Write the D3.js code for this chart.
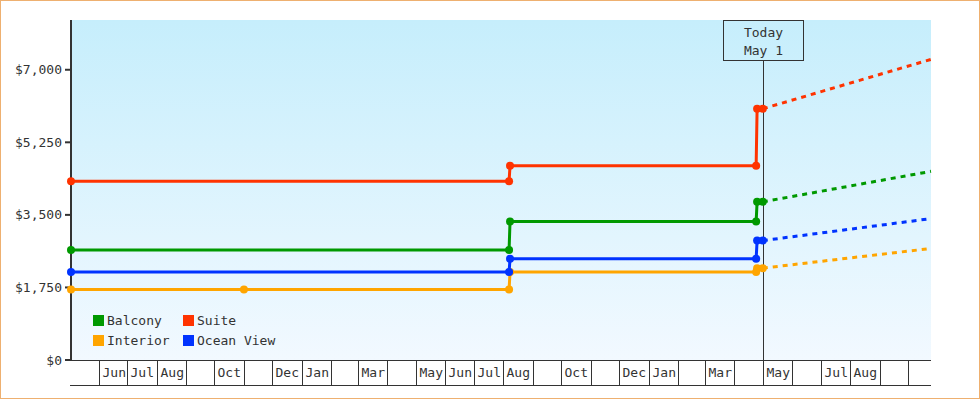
<!DOCTYPE html>
<html>
<head>
<meta charset="utf-8">
<script src="https://cdn.jsdelivr.net/npm/d3@7"></script>
<style>
  html, body { margin: 0; padding: 0; background: #fff; }
  svg { display: block; }
  text { font-family: "DejaVu Sans Mono", monospace; font-size: 13px; fill: #333; }
</style>
</head>
<body>
<svg id="chart" width="980" height="400"></svg>
<script>
// ---- data ----
const domainStart = "2017-05-03";
const domainEnd = "2019-10-25";
const todayDate = "2019-05-01";
const todayLabel = ["Today", "May 1"];

const seriesNames = ["Interior", "Ocean View", "Balcony", "Suite"];
const seriesColors = ["#ffa500", "#0033ff", "#009900", "#ff3300"];

const interiorDates = ["2017-05-03", "2017-11-01", "2018-08-07", "2018-08-08", "2019-04-24", "2019-04-25", "2019-05-01"];
const interiorValues = [1700, 1700, 1700, 2120, 2120, 2215, 2215];

const oceanViewDates = ["2017-05-03", "2018-08-07", "2018-08-08", "2019-04-24", "2019-04-25", "2019-05-01"];
const oceanViewValues = [2120, 2120, 2440, 2440, 2880, 2880];

const balconyDates = ["2017-05-03", "2018-08-07", "2018-08-08", "2019-04-24", "2019-04-25", "2019-05-01"];
const balconyValues = [2655, 2655, 3340, 3340, 3815, 3815];

const suiteDates = ["2017-05-03", "2018-08-07", "2018-08-08", "2019-04-24", "2019-04-25", "2019-05-01"];
const suiteValues = [4310, 4310, 4685, 4685, 6060, 6060];

const forecastEndValues = [2690, 3410, 4550, 7250];

const yTicks = [0, 1750, 3500, 5250, 7000];
const yTickLabels = ["$0", "$1,750", "$3,500", "$5,250", "$7,000"];
const yMax = 8200;

const monthStart = "2017-06-01";
const monthLabels = ["Jun", "Jul", "Aug", "", "Oct", "", "Dec", "Jan", "", "Mar", "", "May",
                     "Jun", "Jul", "Aug", "", "Oct", "", "Dec", "Jan", "", "Mar", "", "May",
                     "", "Jul", "Aug", "", ""];

const legendItems = ["Balcony", "Suite", "Interior", "Ocean View"];
const legendColors = ["#009900", "#ff3300", "#ffa500", "#0033ff"];

// ---- chart ----
(function () {
const parse = d3.timeParse("%Y-%m-%d");
const svg = d3.select("#chart");
const pLeft = 71, pRight = 931, pTop = 20, pBottom = 360, axisBottom = 385;

const x = d3.scaleTime().domain([parse(domainStart), parse(domainEnd)]).range([pLeft, pRight]);
const y = d3.scaleLinear().domain([0, yMax]).range([pBottom, pTop]);

// frame
svg.append("rect").attr("x", 0.5).attr("y", 0.5).attr("width", 979).attr("height", 398)
  .attr("fill", "#fff").attr("stroke", "#eeb070").attr("stroke-width", 1);

// gradient background
const defs = svg.append("defs");
const grad = defs.append("linearGradient").attr("id", "bg").attr("x1", 0).attr("y1", 0).attr("x2", 0).attr("y2", 1);
grad.append("stop").attr("offset", "0%").attr("stop-color", "#c6eefc");
grad.append("stop").attr("offset", "100%").attr("stop-color", "#f2f9ff");
svg.append("rect").attr("x", pLeft).attr("y", pTop).attr("width", pRight - pLeft).attr("height", pBottom - pTop)
  .attr("fill", "url(#bg)");

// x axis (month cells)
const months = d3.range(monthLabels.length).map(i => d3.timeMonth.offset(parse(monthStart), i));
const xg = svg.append("g");
xg.append("line").attr("x1", pLeft - 1).attr("x2", pRight).attr("y1", pBottom + 0.5).attr("y2", pBottom + 0.5)
  .attr("stroke", "#333").attr("stroke-width", 1);
xg.append("line").attr("x1", pLeft - 1).attr("x2", pRight).attr("y1", axisBottom + 0.5).attr("y2", axisBottom + 0.5)
  .attr("stroke", "#333").attr("stroke-width", 1);
months.forEach((m, i) => {
  const px = Math.round(x(m)) + 0.5;
  xg.append("line").attr("x1", px).attr("x2", px).attr("y1", pBottom).attr("y2", axisBottom)
    .attr("stroke", "#333").attr("stroke-width", 1);
  if (monthLabels[i]) {
    xg.append("text").attr("x", px + 3).attr("y", 377).text(monthLabels[i]);
  }
});

// y axis
const yg = svg.append("g");
yg.append("line").attr("x1", pLeft).attr("x2", pLeft).attr("y1", pTop).attr("y2", pBottom + 1)
  .attr("stroke", "#333").attr("stroke-width", 2);
yTicks.forEach((t, i) => {
  const py = y(t);
  yg.append("line").attr("x1", pLeft - 6).attr("x2", pLeft).attr("y1", py).attr("y2", py)
    .attr("stroke", "#333").attr("stroke-width", 2);
  yg.append("text").attr("x", 62).attr("y", py + 4.5).attr("text-anchor", "end").text(yTickLabels[i]);
});

// today marker
const tx = Math.round(x(parse(todayDate))) + 0.5;
svg.append("line").attr("x1", tx).attr("x2", tx).attr("y1", 60.5).attr("y2", pBottom)
  .attr("stroke", "#333").attr("stroke-width", 1);
svg.append("rect").attr("x", tx - 40).attr("y", 20.5).attr("width", 80).attr("height", 40)
  .attr("fill", "none").attr("stroke", "#333").attr("stroke-width", 1);
svg.append("text").attr("x", tx).attr("y", 37).attr("text-anchor", "middle").text(todayLabel[0]);
svg.append("text").attr("x", tx).attr("y", 55).attr("text-anchor", "middle").text(todayLabel[1]);

// series
const allDates = [interiorDates, oceanViewDates, balconyDates, suiteDates];
const allValues = [interiorValues, oceanViewValues, balconyValues, suiteValues];
const line = d3.line().x(d => x(d.date)).y(d => y(d.value));

seriesNames.forEach((name, s) => {
  const pts = allDates[s].map((d, i) => ({ date: parse(d), value: allValues[s][i] }));
  const last = pts[pts.length - 1];
  const fc = [last, { date: parse(domainEnd), value: forecastEndValues[s] }];
  const g = svg.append("g");
  g.append("path").attr("d", line(fc)).attr("fill", "none").attr("stroke", seriesColors[s])
    .attr("stroke-width", 3).attr("stroke-dasharray", "5,5");
  g.append("path").attr("d", line(pts)).attr("fill", "none").attr("stroke", seriesColors[s])
    .attr("stroke-width", 3);
  g.selectAll("circle").data(pts).join("circle")
    .attr("cx", d => x(d.date)).attr("cy", d => y(d.value)).attr("r", 4)
    .attr("fill", seriesColors[s]);
});

// legend
const legendPos = [[93, 315], [183, 315], [93, 335], [183, 335]];
legendItems.forEach((name, i) => {
  const [lx, ly] = legendPos[i];
  svg.append("rect").attr("x", lx).attr("y", ly).attr("width", 11).attr("height", 11).attr("fill", legendColors[i]);
  svg.append("text").attr("x", lx + 14).attr("y", ly + 10).text(name);
});
})();
</script>
</body>
</html>
